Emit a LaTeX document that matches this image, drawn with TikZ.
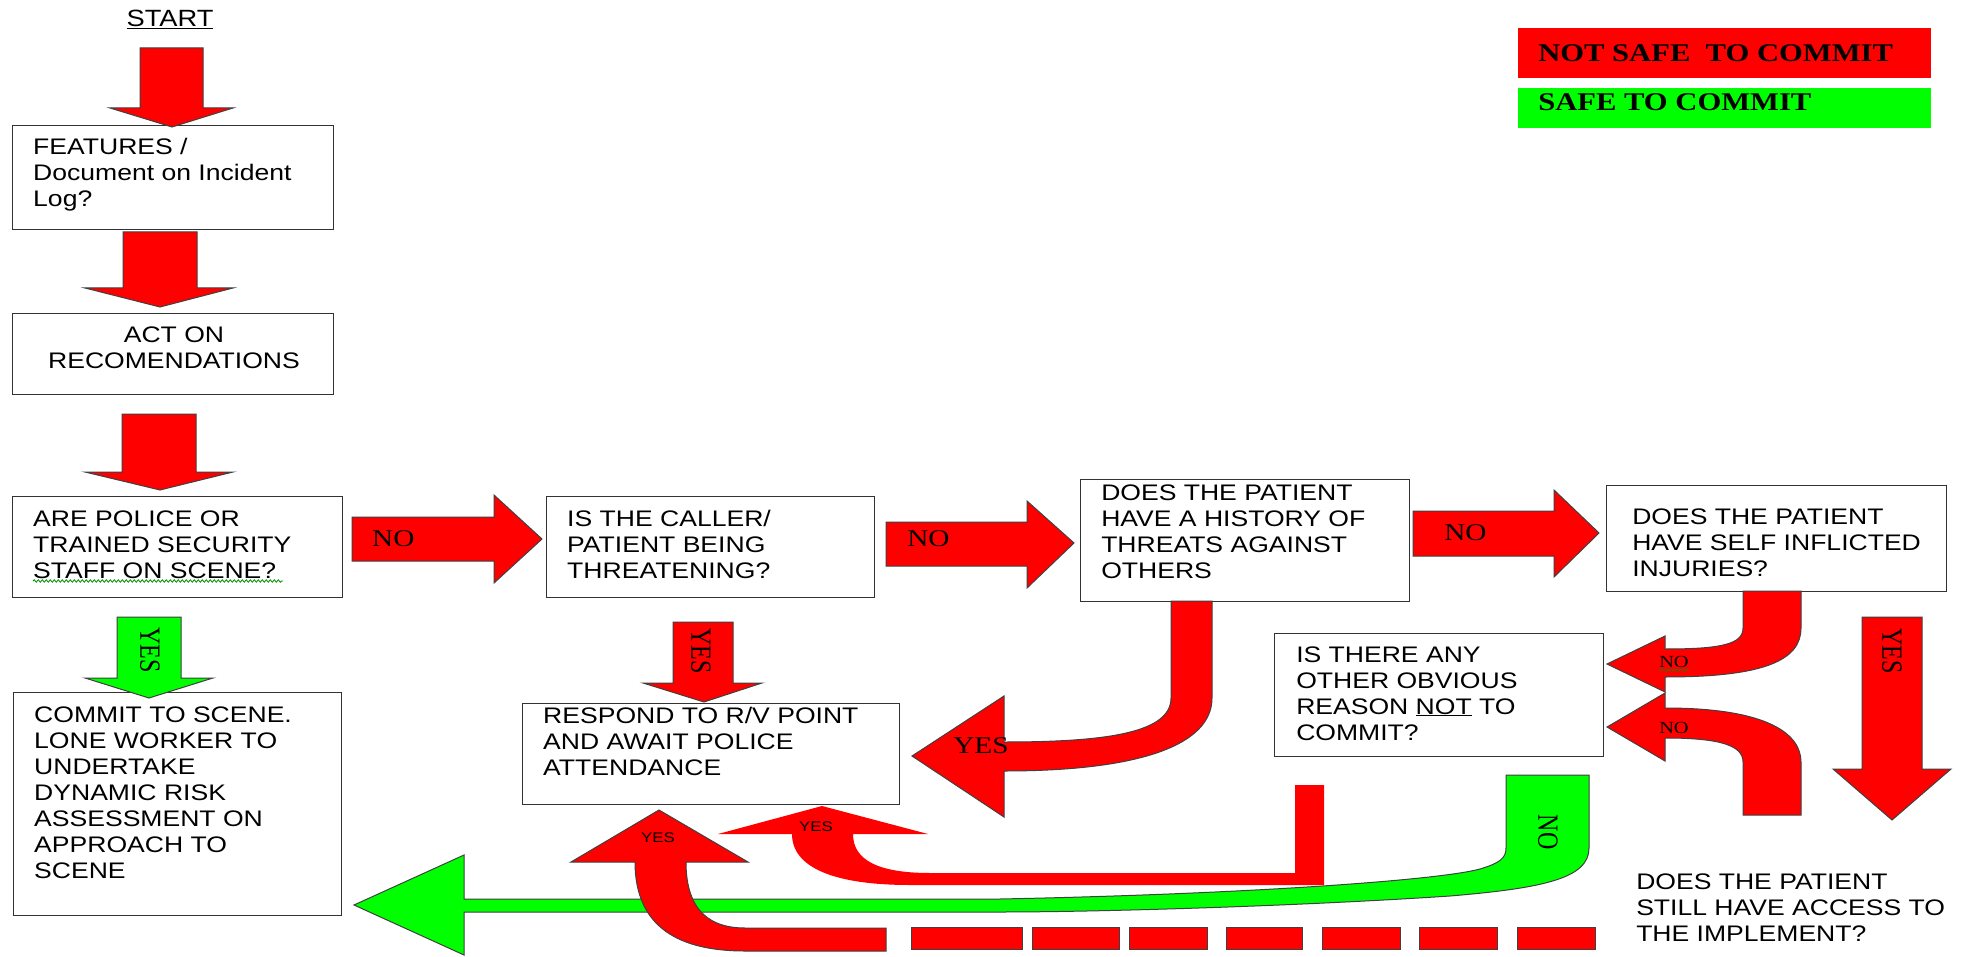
\documentclass[tikz,border=0pt]{standalone}
\usepackage{fontspec}
\setmainfont{Liberation Sans}
\newfontfamily\sansf{Liberation Sans}
\newfontfamily\seriff{Liberation Serif}
\usetikzlibrary{decorations.pathmorphing}
\newcommand\mlines[1]{\begin{tabular}[t]{@{}l@{}}#1\end{tabular}}
\newcommand\mclines[1]{\begin{tabular}[t]{@{}c@{}}#1\end{tabular}}
\tikzset{
  box/.style={draw=black!80, line width=1.3pt, fill=white, inner sep=0pt, anchor=north west},
  txt/.style={inner sep=0pt, anchor=base west, xscale=1.18, font=\sansf\fontsize{22.5}{26}\selectfont},
  lab/.style={inner sep=0pt, anchor=base west, xscale=1.22, font=\seriff\fontsize{24}{28}\selectfont},
  rlab/.style={inner sep=0pt, anchor=center, xscale=1.22, rotate=-90, font=\seriff\fontsize{24}{28}\selectfont},
  smalllab/.style={inner sep=0pt, anchor=base west, xscale=1.2, font=\seriff\fontsize{17}{20}\selectfont},
  tinylab/.style={inner sep=0pt, anchor=base, xscale=1.2, font=\sansf\fontsize{14}{16}\selectfont},
  legtxt/.style={inner sep=0pt, anchor=base west, xscale=1.2, font=\seriff\bfseries\fontsize{25.5}{30}\selectfont},
  redarrow/.style={fill=red, draw=black!75, line width=1pt, line join=miter},
  greenarrow/.style={fill=green, draw=black!75, line width=1pt, line join=miter},
  redflat/.style={fill=red, draw=none},
  squiggle/.style={draw=green!55!black, line width=0.8pt, decorate, decoration={snake, amplitude=1.2pt, segment length=4pt}}
}
\begin{document}
\begin{tikzpicture}[x=1pt,y=-1pt]
\useasboundingbox[fill=white] (0,0) rectangle (1964,957);

% legend
\node[fill=red, inner sep=0pt, anchor=north west, minimum width=413pt, minimum height=50pt] (notsafe) at (1518,28) {};
\node[legtxt] (notsafet) at (1538,62) {NOT SAFE\ \ TO COMMIT};
\node[fill=green, inner sep=0pt, anchor=north west, minimum width=413pt, minimum height=40pt] (safe) at (1518,88) {};
\node[legtxt] (safet) at (1538,111) {SAFE TO COMMIT};

% start
\node[inner sep=0pt, anchor=base, xscale=1.16, font=\sansf\fontsize{23.5}{28}\selectfont] (start) at (170,27) {\underline{START}};

% boxes
\node[box, minimum width=321pt, minimum height=104pt] (features) at (12,125) {};
\node[box, minimum width=321pt, minimum height=81pt] (act) at (12,313) {};
\node[box, minimum width=330pt, minimum height=101pt] (police) at (12,496) {};
\node[box, minimum width=328pt, minimum height=101pt] (caller) at (546,496) {};
\node[box, minimum width=329pt, minimum height=122pt] (history) at (1080,479) {};
\node[box, minimum width=340pt, minimum height=106pt] (self) at (1606,485) {};
\node[box, minimum width=328pt, minimum height=223pt] (commit) at (13,692) {};
\node[box, minimum width=377pt, minimum height=101pt] (respond) at (522,703) {};
\node[box, minimum width=329pt, minimum height=123pt] (other) at (1274,633) {};

% green long arrow (NO from "other reason")
\draw[greenarrow] (464,899) -- (1000,899) .. controls (1250,894) and (1440,880) .. (1480,869)
  .. controls (1500,863) and (1506,858) .. (1506,848) -- (1506,775) -- (1589,775) -- (1589,848)
  .. controls (1589,878) and (1545,888) .. (1450,896) .. controls (1300,906) and (1100,912) .. (1000,912)
  -- (464,912) -- (464,955) -- (354,905) -- (464,855) -- cycle;

% straight block arrows
\draw[redarrow] (140,48) -- (203,48) -- (203,108) -- (233,108) -- (172,127) -- (110,108) -- (140,108) -- cycle;
\draw[redarrow] (123,232) -- (197,232) -- (197,288) -- (233,288) -- (160,307) -- (85,288) -- (123,288) -- cycle;
\draw[redarrow] (122,414) -- (196,414) -- (196,472) -- (233,472) -- (160,490) -- (85,472) -- (122,472) -- cycle;
\draw[greenarrow] (117,617) -- (181,617) -- (181,678) -- (213,678) -- (149,698) -- (85,678) -- (117,678) -- cycle;
\draw[redarrow] (352,517) -- (494,517) -- (494,495) -- (542,539) -- (494,583) -- (494,561) -- (352,561) -- cycle;
\draw[redarrow] (886,522) -- (1027,522) -- (1027,501) -- (1074,543) -- (1027,588) -- (1027,566) -- (886,566) -- cycle;
\draw[redarrow] (1413,511) -- (1554,511) -- (1554,490) -- (1599,533) -- (1554,577) -- (1554,556) -- (1413,556) -- cycle;
\draw[redarrow] (673,622) -- (733,622) -- (733,683) -- (762,683) -- (704,702) -- (643,683) -- (673,683) -- cycle;
\draw[redarrow] (1862,617) -- (1922,617) -- (1922,769) -- (1951,769) -- (1892,820) -- (1833,769) -- (1862,769) -- cycle;

% curved YES from history
\draw[redarrow] (1171,601) -- (1171,698) .. controls (1171,732) and (1110,742) .. (1004,742)
  -- (1004,696) -- (912,756) -- (1004,817) -- (1004,771)
  .. controls (1140,771) and (1212,745) .. (1212,698) -- (1212,601) -- cycle;

% curved NO arrows into "other"
\draw[redarrow] (1743,591) -- (1743,628) .. controls (1743,644) and (1722,649) .. (1665,649)
  -- (1665,636) -- (1607,664) -- (1665,692) -- (1665,677)
  .. controls (1765,677) and (1801,660) .. (1801,628) -- (1801,591) -- cycle;
\draw[redarrow] (1743,815) -- (1743,762) .. controls (1743,746) and (1722,738) .. (1665,738)
  -- (1665,761) -- (1607,727) -- (1665,693) -- (1665,708)
  .. controls (1770,708) and (1801,735) .. (1801,762) -- (1801,815) -- cycle;

% L-shaped thin arrow to respond
\path[redflat] (1324,785) -- (1324,885) -- (910,885) .. controls (835,885) and (792,868) .. (792,834)
  -- (718,834) -- (822,806) -- (928,834) -- (853,834) .. controls (853,860) and (878,873) .. (930,873)
  -- (1295,873) -- (1295,785) -- cycle;

% big curved YES from left dashes
\draw[redarrow] (635,862) .. controls (635,928) and (680,951) .. (745,951) -- (886,951) -- (886,928)
  -- (745,928) .. controls (702,928) and (686,902) .. (686,862) -- (748,862) -- (659,810) -- (571,862) -- cycle;

% dashes
\foreach \a/\b [count=\i] in {911/1022,1032/1119,1129/1207,1226/1302,1322/1400,1419/1497,1517/1595}
  \draw[redarrow] (\a,927) rectangle (\b,949);

% box texts
\node[txt] (featurest) at (33,155) {\mlines{FEATURES /\\Document on Incident\\Log?}};
\node[txt, anchor=base] (actt) at (174,342) {\mclines{ACT ON\\RECOMENDATIONS}};
\node[txt] (policet) at (33,526) {\mlines{ARE POLICE OR\\TRAINED SECURITY\\STAFF ON SCENE?}};
\draw[squiggle] (33,581) -- (283,581);
\node[txt] (callert) at (567,526) {\mlines{IS THE CALLER/\\PATIENT BEING\\THREATENING?}};
\node[txt] (historyt) at (1101,500) {\mlines{DOES THE PATIENT\\HAVE A HISTORY OF\\THREATS AGAINST\\OTHERS}};
\node[txt] (selft) at (1632,524) {\mlines{DOES THE PATIENT\\HAVE SELF INFLICTED\\INJURIES?}};
\node[txt] (committ) at (34,722) {\mlines{COMMIT TO SCENE.\\LONE WORKER TO\\UNDERTAKE\\DYNAMIC RISK\\ASSESSMENT ON\\APPROACH TO\\SCENE}};
\node[txt] (respondt) at (543,723) {\mlines{RESPOND TO R/V POINT\\AND AWAIT POLICE\\ATTENDANCE}};
\node[txt] (othert) at (1296,662) {\mlines{IS THERE ANY\\OTHER OBVIOUS\\REASON \underline{NOT} TO\\COMMIT?}};
\node[txt] (accesst) at (1636,889) {\mlines{DOES THE PATIENT\\STILL HAVE ACCESS TO\\THE IMPLEMENT?}};

% arrow labels
\node[lab] (no1) at (372,546) {NO};
\node[lab] (no2) at (907,546) {NO};
\node[lab] (no3) at (1444,540) {NO};
\node[lab] (yeshist) at (953,753) {YES};
\node[smalllab] (no4) at (1659,667) {NO};
\draw[squiggle, line width=0.6pt, decoration={snake, amplitude=0.8pt, segment length=3pt}] (1659,670) -- (1688,670);
\node[smalllab] (no5) at (1659,733) {NO};
\node[rlab] (yesgreen) at (150,650) {YES};
\node[rlab] (yescaller) at (701,651) {YES};
\node[rlab] (yesright) at (1892,651) {YES};
\node[rlab] (nogreen) at (1548,832) {NO};
\node[tinylab] (yes2) at (816,831) {YES};
\node[tinylab] (yes3) at (658,842) {YES};
\end{tikzpicture}
\end{document}
